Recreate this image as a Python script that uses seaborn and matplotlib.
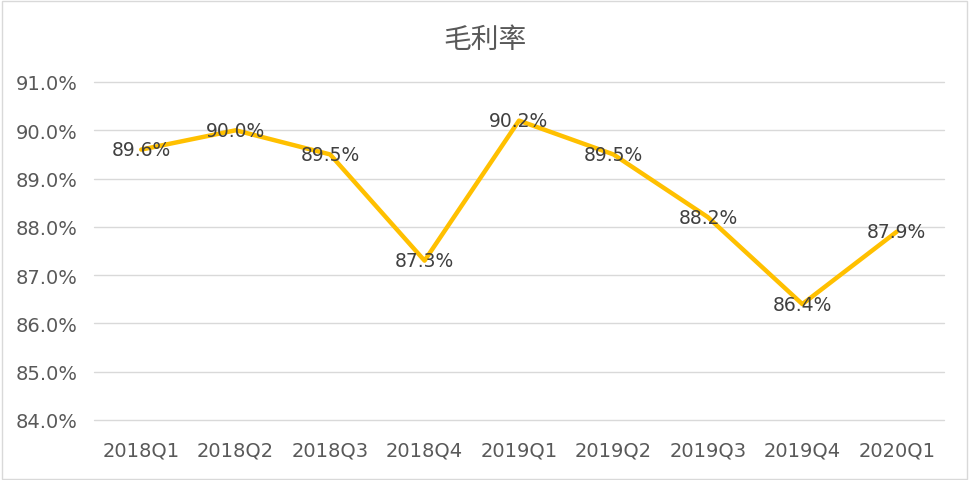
import matplotlib
matplotlib.use("Agg")
import matplotlib.pyplot as plt
import seaborn as sns
import pandas as pd
from matplotlib.patches import Rectangle

quarters = ["2018Q1", "2018Q2", "2018Q3", "2018Q4", "2019Q1",
            "2019Q2", "2019Q3", "2019Q4", "2020Q1"]
gross_margin = [89.6, 90.0, 89.5, 87.3, 90.2, 89.5, 88.2, 86.4, 87.9]
y_ticks = [84.0, 85.0, 86.0, 87.0, 88.0, 89.0, 90.0, 91.0]
title = "毛利率"

sns.set_theme(style="white")
plt.rcParams['font.family'] = ['DejaVu Sans', 'Noto Sans CJK SC']

df = pd.DataFrame({"quarter": quarters, "value": gross_margin})

fig = plt.figure(figsize=(9.7, 4.81), dpi=100)
ax = fig.add_axes([94/970, 1 - 421/481, (944-94)/970, (421-83)/481])

sns.lineplot(data=df, x="quarter", y="value", ax=ax, color="#FFC000",
             linewidth=3.2, sort=False, zorder=3)

ax.set_ylim(84.0, 91.0)
ax.set_xlim(-0.5, len(quarters) - 0.5)
ax.set_yticks(y_ticks)
ax.set_yticklabels([f"{v:.1f}%" for v in y_ticks])
ax.grid(axis="y", color="#D9D9D9", linewidth=1.0)
ax.grid(axis="x", visible=False)
for line in ax.get_ygridlines():
    line.set_clip_on(False)
for s in ax.spines.values():
    s.set_visible(False)
ax.set_xlabel("")
ax.set_ylabel("")
ax.tick_params(axis="both", length=0, labelsize=14, labelcolor="#595959")
ax.tick_params(axis="x", pad=15)
ax.tick_params(axis="y", pad=12)

for i, v in enumerate(gross_margin):
    ax.text(i, v, f"{v:.1f}%", ha="center", va="center", fontsize=13.5,
            color="#404040", zorder=4)

fig.text(485/970, 1 - 40/481, title, ha="center", va="center",
         fontsize=20, color="#595959", family=['Noto Sans CJK SC', 'DejaVu Sans'])

fig.patches.append(Rectangle((0.002, 0.003), 0.995, 0.993, transform=fig.transFigure,
                             fill=False, edgecolor="#D9D9D9", linewidth=1.0))

fig.savefig("out.png", dpi=100)
